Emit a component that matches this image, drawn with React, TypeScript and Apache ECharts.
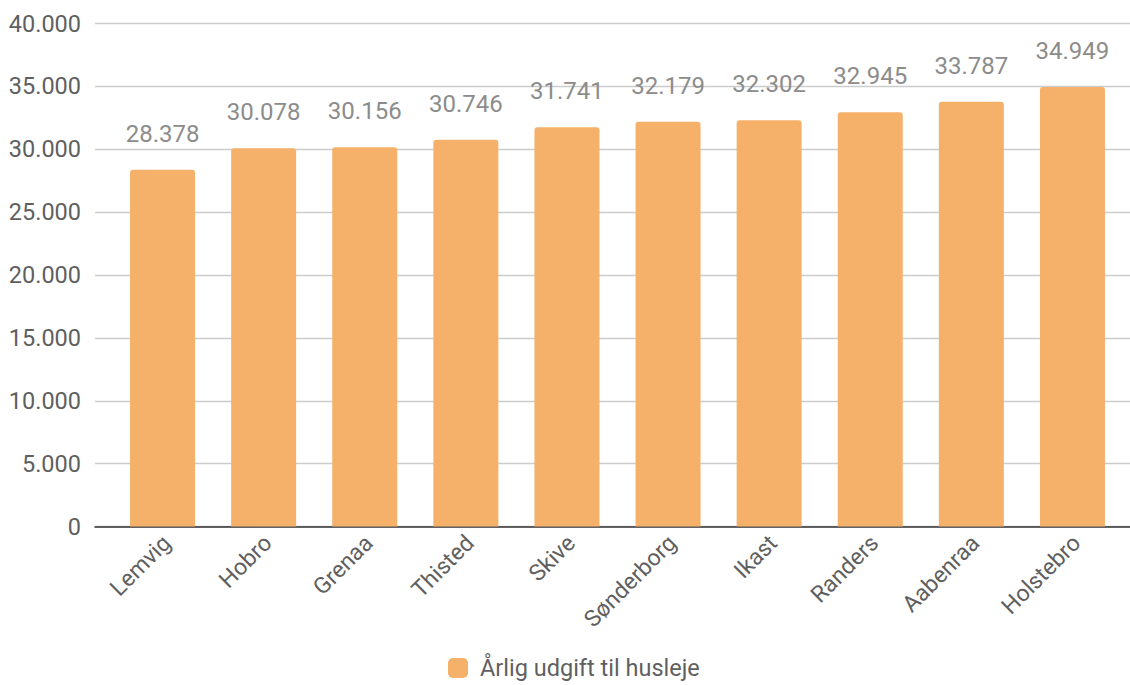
import React, { useEffect, useRef } from "react";
import * as echarts from "echarts";

const categories = ["Lemvig", "Hobro", "Grenaa", "Thisted", "Skive", "Sønderborg", "Ikast", "Randers", "Aabenraa", "Holstebro"];
const values = [28378, 30078, 30156, 30746, 31741, 32179, 32302, 32945, 33787, 34949];
const seriesName = "Årlig udgift til husleje";
const yTicks = { min: 0, max: 40000, interval: 5000 };

const fmt = (v: number) => {
  const s = String(Math.round(v));
  return s.replace(/\B(?=(\d{3})+(?!\d))/g, ".");
};

const FONT = "Roboto, 'Helvetica Neue', Arial, sans-serif";

export default function App() {
  const ref = useRef<HTMLDivElement>(null);
  useEffect(() => {
    const chart = echarts.init(ref.current!, null, { renderer: "svg" });
    chart.setOption({
      animation: false,
      backgroundColor: "#ffffff",
      textStyle: { fontFamily: FONT },
      legend: {
        bottom: 0,
        left: 443,
        itemWidth: 20,
        itemHeight: 20,
        itemGap: 10,
        icon: "roundRect",
        textStyle: { fontSize: 23.5, color: "#5f5f5f", fontFamily: FONT, padding: [0, 0, 0, 7] },
        data: [seriesName],
      },
      grid: [
        { left: 95, right: 0, top: 23.5, bottom: 158.5, containLabel: false },
        { left: 112, right: 7, top: 23.5, bottom: 158.5, containLabel: false },
      ],
      xAxis: [
        {
          type: "category",
          gridIndex: 0,
          data: categories,
          axisLine: { show: true, lineStyle: { color: "#333333", width: 1.5 } },
          axisTick: { show: false },
          axisLabel: { show: false },
        },
        {
          type: "category",
          gridIndex: 1,
          data: categories,
          axisLine: { show: false },
          axisTick: { show: false },
          axisLabel: {
            rotate: 45,
            fontSize: 23,
            color: "#5f5f5f",
            fontFamily: FONT,
            margin: 17,
            padding: [0, -6, 0, 0],
          },
        },
      ],
      yAxis: [
        {
          type: "value",
          gridIndex: 0,
          min: yTicks.min,
          max: yTicks.max,
          interval: yTicks.interval,
          axisLine: { show: false },
          axisTick: { show: false },
          splitLine: { lineStyle: { color: "#cccccc", width: 1.3 } },
          axisLabel: {
            fontSize: 23.5,
            color: "#5f5f5f",
            fontFamily: FONT,
            margin: 14,
            formatter: (v: number) => fmt(v),
          },
        },
        {
          type: "value",
          gridIndex: 1,
          min: yTicks.min,
          max: yTicks.max,
          interval: yTicks.interval,
          axisLine: { show: false },
          axisTick: { show: false },
          splitLine: { show: false },
          axisLabel: { show: false },
        },
      ],
      series: [
        {
          name: seriesName,
          type: "bar",
          xAxisIndex: 1,
          yAxisIndex: 1,
          data: values,
          barWidth: 65,
          itemStyle: { color: "#f5b06a", borderRadius: [3, 3, 0, 0] },
          label: {
            show: true,
            position: "top",
            distance: 24,
            fontSize: 24,
            color: "#8c8c8c",
            fontFamily: FONT,
            formatter: (p: any) => fmt(p.value),
          },
        },
      ],
    });
    return () => chart.dispose();
  }, []);
  return (
    <div
      ref={ref}
      style={{ position: "absolute", left: 0, top: 0, width: 1130, height: 685 }}
    />
  );
}
